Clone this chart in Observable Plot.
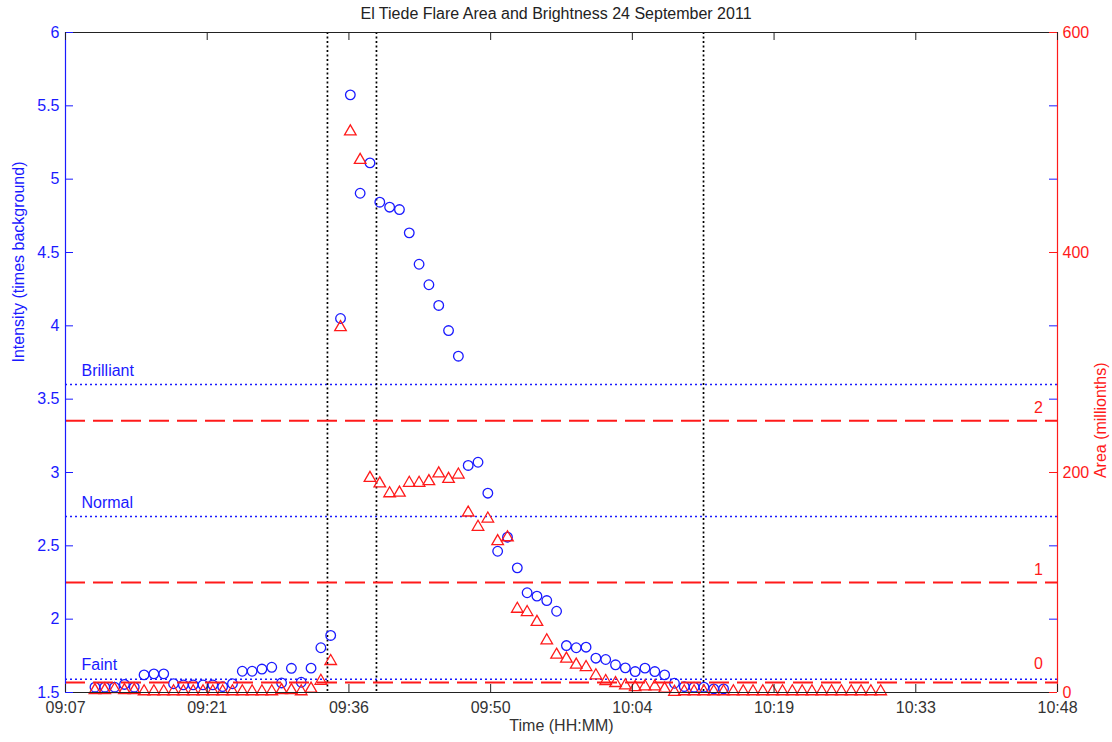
<!DOCTYPE html>
<html>
<head>
<meta charset="utf-8">
<script src="https://cdn.jsdelivr.net/npm/d3@7"></script>
<script src="https://cdn.jsdelivr.net/npm/@observablehq/plot@0.6"></script>
<style>
  body { margin: 0; background: #fff; font-family: "Liberation Sans", Arial, sans-serif; }
  #title { height: 24px; line-height: 28px; text-align: center; font-size: 16px; color: #222; white-space: nowrap; }
  #chart svg { overflow: visible; }
</style>
</head>
<body>
<div id="title">El Tiede Flare Area and Brightness 24 September 2011</div>
<div id="chart"></div>
<script>
// ---------- data (minutes after 09:00) ----------
const intensityMinutes = [10,11,12,13,14,15,16,17,18,19,20,21,22,23,24,25,26,27,28,29,30,31,32,33,34,35,36,37,38,39,40,41,42,43,44,45,46,47,48,49,50,51,52,53,54,55,56,57,58,59,60,61,62,63,64,65,66,67,68,69,70,71,72,73,74];
const intensityValues = [1.536,1.536,1.536,1.555,1.536,1.62,1.627,1.627,1.56,1.552,1.552,1.552,1.552,1.54,1.56,1.645,1.645,1.66,1.672,1.565,1.665,1.57,1.666,1.805,1.889,4.05,5.575,4.904,5.111,4.843,4.809,4.793,4.634,4.42,4.28,4.139,3.968,3.793,3.048,3.07,2.859,2.463,2.559,2.35,2.18,2.157,2.127,2.054,1.82,1.805,1.809,1.734,1.725,1.689,1.668,1.643,1.666,1.643,1.62,1.563,1.54,1.536,1.536,1.525,1.525];

const areaMinutes = [10,11,12,13,14,15,16,17,18,19,20,21,22,23,24,25,26,27,28,29,30,31,32,33,34,35,36,37,38,39,40,41,42,43,44,45,46,47,48,49,50,51,52,53,54,55,56,57,58,59,60,61,62,63,64,65,66,67,68,69,70,71,72,73,74,75,76,77,78,79,80,81,82,83,84,85,86,87,88,89,90];
const areaValues = [2,2,3,2,2,1,1,1,1,1,1,1,1,1,1,1,1,1,1,2,2,1,3.4,10.5,28.5,332,510,484,195,190,181,181.5,190.5,190.5,192,199,194,198,163.5,150.5,158,137.5,141,76,73,64,47.3,34.2,30.6,25.2,23,15.5,10.3,8.5,6.4,4.8,5.5,5.5,3.4,0.5,1,1,1,1,1,1,1,1,1,1,1,1,1,1,1,1,1,1,1,1,1];

const eventMinutes = [33.67, 38.66, 71.96];

const intensityLevelNames = ["Brilliant", "Normal", "Faint"];
const intensityLevelValues = [3.6, 2.7, 1.59];
const areaLevelNames = ["2", "1", "0"];
const areaLevelValues = [247, 100, 9];

const xTickLabels = ["09:07","09:21","09:36","09:50","10:04","10:19","10:33","10:48"];
const intensityTicks = [1.5,2,2.5,3,3.5,4,4.5,5,5.5,6];
const intensityTickLabels = ["1.5","2","2.5","3","3.5","4","4.5","5","5.5","6"];
const areaTicks = [0,200,400,600];
const areaTickLabels = ["0","200","400","600"];

const title = "El Tiede Flare Area and Brightness 24 September 2011";
const yLabelLeft = "Intensity (times background)";
const yLabelRight = "Area (millionths)";
const xLabel = "Time (HH:MM)";

// ---------- scales ----------
const X0 = 7, X1 = 108, Y0 = 1.5, Y1 = 6, AREA_MAX = 600;
const a2i = a => Y0 + a * (Y1 - Y0) / AREA_MAX;
const xTicks = xTickLabels.map((_, k) => X0 + k * (X1 - X0) / (xTickLabels.length - 1));
const areaTickPos = areaTicks.map(a2i);

const intensityData = intensityMinutes.map((t, i) => ({t, v: intensityValues[i]}));
const areaData = areaMinutes.map((t, i) => ({t, a: areaValues[i]}));
const intensityLevels = intensityLevelNames.map((name, i) => ({name, value: intensityLevelValues[i]}));
const areaLevels = areaLevelNames.map((name, i) => ({name, value: areaLevelValues[i]}));

const BLUE = "#1a1aff", RED = "#ff1a1a", DARK = "#222";
const width = 1112, height = 718;
const marginLeft = 65, marginRight = 55, marginTop = 8, marginBottom = 50;
const plotW = width - marginLeft - marginRight, plotH = height - marginTop - marginBottom;
const TICK = 8;

const chart = Plot.plot({
  width, height, marginLeft, marginRight, marginTop, marginBottom,
  x: {domain: [X0, X1]},
  y: {domain: [Y0, Y1]},
  style: {fontFamily: '"Liberation Sans", Arial, sans-serif', fontSize: "16px", background: "white", overflow: "visible"},
  marks: [
    Plot.ruleY(intensityLevels, {y: "value", stroke: BLUE, strokeWidth: 1.4, strokeDasharray: "2,3"}),
    Plot.text(intensityLevels, {x: X0, y: "value", text: "name", fill: BLUE, textAnchor: "start", dx: 16, dy: -14, fontSize: 16}),
    Plot.ruleX(eventMinutes, {stroke: "black", strokeWidth: 1.7, strokeDasharray: "2,2.5"}),
    Plot.dot(intensityData, {x: "t", y: "v", r: 4.8, stroke: BLUE, strokeWidth: 1.3, fill: "none"}),
    Plot.ruleY(areaLevels, {y: d => a2i(d.value), stroke: RED, strokeWidth: 2, strokeDasharray: "20,8"}),
    Plot.text(areaLevels.filter(d => d.value >= 50), {x: X1, y: d => a2i(d.value), text: "name", fill: RED, dx: -19, dy: -13, fontSize: 16}),
    Plot.text(areaLevels.filter(d => d.value < 50), {x: X1, y: d => a2i(d.value), text: "name", fill: RED, dx: -19, dy: -19, fontSize: 16}),
    Plot.dot(areaData, {x: "t", y: d => a2i(d.a), symbol: "triangle", r: 4.3, stroke: RED, strokeWidth: 1.3, fill: "none"}),
    // frame
    Plot.ruleY([Y0, Y1], {stroke: DARK, strokeWidth: 1.2}),
    Plot.ruleX([X0], {stroke: BLUE, strokeWidth: 1.2}),
    Plot.ruleX([X1], {stroke: RED, strokeWidth: 1.2}),
    // inward ticks
    Plot.tickY(intensityTicks, {y: d => d, stroke: BLUE, insetRight: plotW - TICK}),
    Plot.tickY(intensityTicks, {y: d => d, stroke: BLUE, insetLeft: plotW - TICK}),
    Plot.tickY(areaTickPos, {y: d => d, stroke: RED, insetLeft: plotW - TICK}),
    Plot.tickX(xTicks, {x: d => d, stroke: DARK, insetTop: plotH - TICK}),
    Plot.tickX(xTicks, {x: d => d, stroke: DARK, insetBottom: plotH - TICK}),
    // axes labels
    Plot.axisY({ticks: intensityTicks, tickFormat: d => intensityTickLabels[intensityTicks.indexOf(d)], tickSize: 0, tickPadding: 6, color: BLUE, label: null, fontSize: 16}),
    Plot.axisY({anchor: "right", ticks: areaTickPos, tickFormat: d => areaTickLabels[areaTickPos.indexOf(d)], tickSize: 0, tickPadding: 5, color: RED, label: null, fontSize: 16}),
    Plot.axisX({ticks: xTicks, tickFormat: d => xTickLabels[xTicks.indexOf(d)], tickSize: 0, tickPadding: 9, color: "#333", label: null, fontSize: 16}),
    Plot.text([yLabelLeft], {frameAnchor: "left", rotate: -90, dx: -47, fill: BLUE, fontSize: 16}),
    Plot.text([yLabelRight], {frameAnchor: "right", rotate: -90, dx: 43, fill: RED, fontSize: 16}),
    Plot.text([xLabel], {frameAnchor: "bottom", dy: 38, fill: "#333", fontSize: 16})
  ]
});
document.getElementById("title").textContent = title;
document.getElementById("chart").appendChild(chart);
</script>
</body>
</html>
